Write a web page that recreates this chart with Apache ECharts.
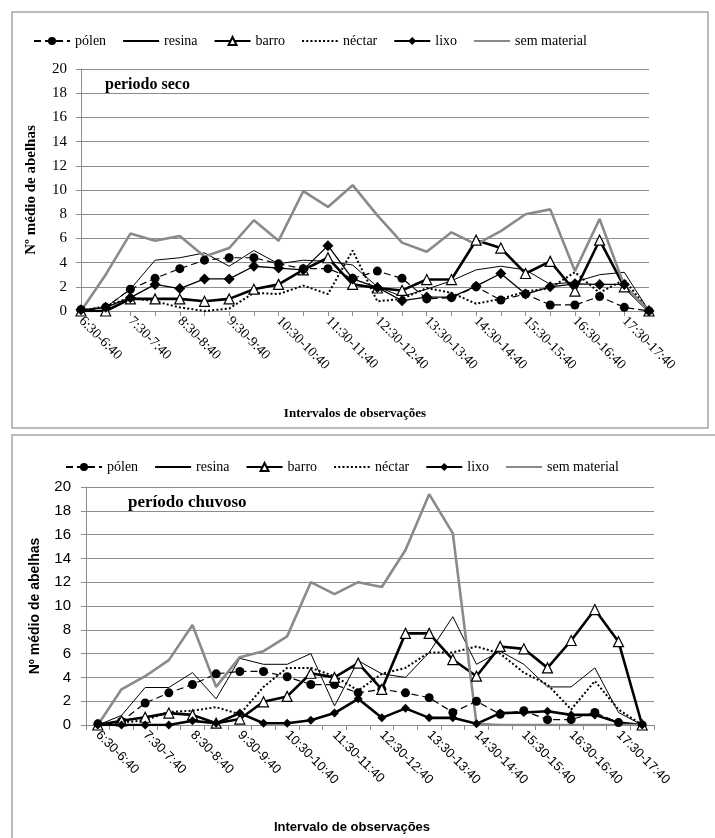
<!DOCTYPE html>
<html><head><meta charset="utf-8">
<script src="https://cdn.jsdelivr.net/npm/echarts@6/dist/echarts.min.js"></script>
<style>html,body{margin:0;padding:0;background:#fff}#c{width:715px;height:838px}</style>
</head><body><div id="c"></div>
<script>
const categories = ["6:30-6:40","7:00-7:10","7:30-7:40","8:00-8:10","8:30-8:40","9:00-9:10","9:30-9:40","10:00-10:10","10:30-10:40","11:00-11:10","11:30-11:40","12:00-12:10","12:30-12:40","13:00-13:10","13:30-13:40","14:00-14:10","14:30-14:40","15:00-15:10","15:30-15:40","16:00-16:10","16:30-16:40","17:00-17:10","17:30-17:40","18:00-18:10"];
const seriesNames = ["pólen","resina","barro","néctar","lixo","sem material"];
const yTicks = [0,2,4,6,8,10,12,14,16,18,20];

// período seco
const polenSeco   = [0.1,0.3,1.8,2.7,3.5,4.2,4.4,4.4,3.9,3.5,3.5,2.7,3.3,2.7,1.0,1.1,2.0,0.9,1.4,0.5,0.5,1.2,0.3,0];
const resinaSeco  = [0,0.3,1.8,4.2,4.4,4.8,3.7,5.0,3.9,4.2,4.1,3.8,2.0,1.2,1.8,2.5,3.4,3.7,3.4,2.2,2.4,3.0,3.2,0];
const barroSeco   = [0,0,1.0,1.0,1.0,0.8,1.0,1.8,2.2,3.4,4.4,2.2,1.9,1.7,2.6,2.6,5.85,5.2,3.1,4.1,1.65,5.85,2.0,0];
const nectarSeco  = [0,0.4,1.1,0.8,0.3,0.0,0.2,1.5,1.4,2.1,1.4,5.0,0.8,1.0,1.9,1.5,0.6,1.0,1.6,1.9,3.2,1.5,2.6,0];
const lixoSeco    = [0.1,0.3,1.1,2.2,1.85,2.65,2.65,3.7,3.55,3.4,5.4,2.65,1.95,0.85,1.15,1.15,2.05,3.1,1.4,2.0,2.25,2.2,2.2,0];
const semSeco     = [0,3.0,6.4,5.8,6.2,4.5,5.2,7.5,5.8,9.9,8.6,10.4,7.9,5.65,4.9,6.5,5.5,6.6,8.0,8.4,3.3,7.6,2.1,0];

// período chuvoso
const polenChuv   = [0.1,0.3,1.85,2.7,3.4,4.3,4.5,4.5,4.05,3.4,3.4,2.7,3.0,2.7,2.3,1.05,2.0,0.9,1.2,0.45,0.45,1.05,0.2,0];
const resinaChuv  = [0,0.8,3.15,3.15,4.4,2.2,5.6,5.1,5.1,6.0,1.6,5.4,4.3,4.0,6.1,9.1,5.1,6.2,5.1,3.2,3.2,4.8,1.05,0];
const barroChuv   = [0,0.35,0.65,1.0,0.85,0.15,0.5,1.95,2.4,4.35,4.0,5.2,3.0,7.7,7.7,5.5,4.1,6.6,6.4,4.8,7.1,9.7,7.0,0];
const nectarChuv  = [0,0.2,0.4,1.1,1.2,1.5,0.9,3.2,4.8,4.8,4.1,2.9,4.3,4.8,6.1,6.1,6.6,6.0,4.4,3.4,1.3,3.7,1.3,0];
const lixoChuv    = [0,0,0,0,0.35,0.15,1.0,0.15,0.15,0.4,1.0,2.2,0.6,1.4,0.6,0.6,0.1,1.0,1.05,1.15,0.85,0.85,0.2,0];
const semChuv     = [0,3.0,4.1,5.45,8.4,3.2,5.7,6.2,7.45,12.0,11.0,12.0,11.6,14.7,19.4,16.1,0.1,0,0,0,0,0,0,0];

const SERIF = 'Liberation Serif';
const SANS = 'Liberation Sans';
const GRAY = '#8a8a8a';
const GRIDC = '#8c8c8c';
const ZW = '\u200b';
const noMarker = [false, true, false, true, false, true];

function mk(idx, name, data, kind, lixoW, lixoSize) {
  const base = {name: name, type: 'line', xAxisIndex: idx, yAxisIndex: idx, data: data,
    animation: false, showSymbol: true, emphasis: {disabled: true}};
  if (kind === 0) return Object.assign(base, {symbol: 'circle', symbolSize: 9,
    itemStyle: {color: '#000'}, lineStyle: {color: '#000', width: 1.2, type: [7, 4]}});
  if (kind === 1) return Object.assign(base, {symbol: 'none',
    itemStyle: {color: '#000'}, lineStyle: {color: '#000', width: 1}});
  if (kind === 2) return Object.assign(base, {symbol: 'triangle', symbolSize: 10,
    itemStyle: {color: '#fff', borderColor: '#000', borderWidth: 1.2}, lineStyle: {color: '#000', width: 2.6}});
  if (kind === 3) return Object.assign(base, {symbol: 'none',
    itemStyle: {color: '#000'}, lineStyle: {color: '#000', width: 2, type: [2, 2.2]}});
  if (kind === 4) return Object.assign(base, {symbol: 'diamond', symbolSize: lixoSize,
    itemStyle: {color: '#000'}, lineStyle: {color: '#000', width: lixoW}});
  return Object.assign(base, {symbol: 'none', z: 3,
    itemStyle: {color: GRAY}, lineStyle: {color: GRAY, width: 2.6}});
}

const seco = [polenSeco, resinaSeco, barroSeco, nectarSeco, lixoSeco, semSeco];
const chuv = [polenChuv, resinaChuv, barroChuv, nectarChuv, lixoChuv, semChuv];
const series = [];
seriesNames.forEach((n, k) => series.push(mk(0, n, seco[k], k, 1.3, 11)));
seriesNames.forEach((n, k) => series.push(mk(1, n + ZW, chuv[k], k, 2.6, 9)));

function xAxisCfg(idx, gap, font, fsize) {
  return {type: 'category', gridIndex: idx, data: categories, boundaryGap: gap,
    axisLine: {lineStyle: {color: GRIDC, width: 1}},
    axisTick: {show: true, interval: 0, length: 5, lineStyle: {color: GRIDC}},
    axisLabel: {interval: 1, rotate: -45, margin: 8, color: '#000', fontFamily: font, fontSize: fsize}};
}
function yAxisCfg(idx, font, fsize, margin, nameFont, nameSize, nameGap) {
  return {type: 'value', gridIndex: idx, min: 0, max: 20, interval: 2,
    name: 'Nº médio de abelhas', nameLocation: 'middle', nameRotate: 90, nameGap: nameGap,
    nameTextStyle: {fontFamily: nameFont, fontSize: nameSize, fontWeight: 'bold', color: '#000'},
    axisLine: {show: true, lineStyle: {color: GRIDC}},
    axisTick: {show: true, length: 5, lineStyle: {color: GRIDC}},
    splitLine: {lineStyle: {color: GRIDC, width: 1}},
    axisLabel: {color: '#000', fontFamily: font, fontSize: fsize, margin: margin,
      formatter: v => yTicks.includes(v) ? String(v) : ''}};
}

function legendData(suffix) {
  return seriesNames.map((n, k) => noMarker[k]
    ? {name: n + suffix, itemStyle: {opacity: 0, borderWidth: 0}}
    : {name: n + suffix});
}
const legendBase = {itemWidth: 36, itemHeight: 10, itemGap: 16,
  textStyle: {fontFamily: SERIF, fontSize: 14, color: '#000'},
  formatter: n => n.replace(ZW, ''), selectedMode: false};

const option = {
  backgroundColor: '#fff',
  animation: false,
  grid: [
    {left: 81, top: 69, width: 568, height: 242, containLabel: false},
    {left: 86, top: 487, width: 568, height: 238, containLabel: false}
  ],
  legend: [
    Object.assign({}, legendBase, {data: legendData(''), left: 28, top: 29}),
    Object.assign({}, legendBase, {data: legendData(ZW), left: 60, top: 455})
  ],
  xAxis: [xAxisCfg(0, false, SERIF, 14), xAxisCfg(1, true, SANS, 13)],
  yAxis: [yAxisCfg(0, SERIF, 15, 14, SERIF, 15, 42), yAxisCfg(1, SANS, 15, 15, SANS, 14, 44)],
  series: series,
  graphic: [
    {type: 'rect', shape: {x: 12, y: 12, width: 696, height: 416}, style: {fill: 'none', stroke: '#a6a6a6', lineWidth: 1.5}, silent: true, z: -10},
    {type: 'rect', shape: {x: 12, y: 435, width: 712, height: 412}, style: {fill: 'none', stroke: '#a6a6a6', lineWidth: 1.5}, silent: true, z: -10},
    {type: 'text', x: 105, y: 85, style: {text: 'periodo seco', fontFamily: SERIF, fontSize: 16, fontWeight: 'bold', fill: '#000', verticalAlign: 'middle'}, z: 10},
    {type: 'text', x: 128, y: 503, style: {text: 'período chuvoso', fontFamily: SERIF, fontSize: 17, fontWeight: 'bold', fill: '#000', verticalAlign: 'middle'}, z: 10},
    {type: 'text', x: 355, y: 414, style: {text: 'Intervalos de observações', fontFamily: SERIF, fontSize: 13, fontWeight: 'bold', fill: '#000', align: 'center', verticalAlign: 'middle'}},
    {type: 'text', x: 352, y: 827, style: {text: 'Intervalo de observações', fontFamily: SANS, fontSize: 13, fontWeight: 'bold', fill: '#000', align: 'center', verticalAlign: 'middle'}}
  ]
};
const chart = echarts.init(document.getElementById('c'), null, {renderer: 'canvas'});
chart.setOption(option);
</script></body></html>
